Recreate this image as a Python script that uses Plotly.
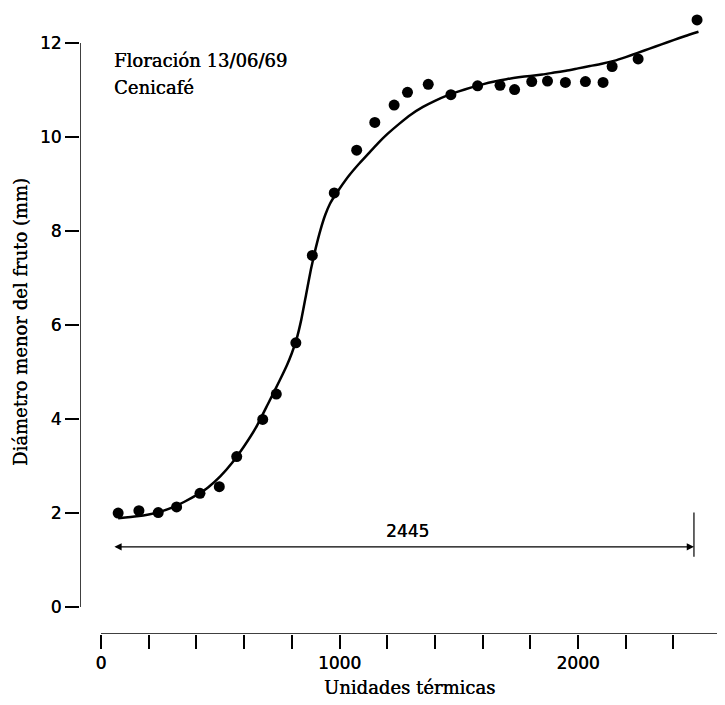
import plotly.graph_objects as go

# Observed data (thermal units vs fruit minor diameter, mm)
obs_x = [72, 159, 240, 317, 415, 496, 569, 678, 735, 817, 886, 978, 1072, 1148,
         1229, 1285, 1372, 1467, 1579, 1673, 1734, 1806, 1872, 1947, 2031, 2105,
         2143, 2252, 2499]
obs_y = [2.00, 2.05, 2.01, 2.13, 2.42, 2.56, 3.20, 3.99, 4.53, 5.62, 7.48, 8.81,
         9.72, 10.31, 10.68, 10.95, 11.12, 10.90, 11.09, 11.10, 11.01, 11.18,
         11.19, 11.16, 11.18, 11.16, 11.50, 11.66, 12.49]

# Fitted curve
fit_x = [72, 150, 200, 250, 300, 350, 400, 450, 500, 550, 600, 650, 700, 750,
         780, 800, 820, 840, 860, 880, 900, 920, 940, 960, 980, 1000, 1040, 1080,
         1120, 1160, 1200, 1250, 1300, 1350, 1400, 1450, 1500, 1550, 1600, 1650,
         1700, 1750, 1800, 1850, 1900, 1950, 2000, 2050, 2100, 2150, 2200, 2250,
         2300, 2350, 2400, 2450, 2505]
fit_y = [1.89, 1.93, 1.97, 2.03, 2.12, 2.24, 2.38, 2.55, 2.78, 3.07, 3.42, 3.82,
         4.32, 4.83, 5.15, 5.40, 5.70, 6.12, 6.65, 7.18, 7.63, 8.02, 8.34, 8.58,
         8.75, 8.90, 9.18, 9.42, 9.64, 9.86, 10.06, 10.28, 10.48, 10.64, 10.77,
         10.88, 10.97, 11.05, 11.12, 11.18, 11.23, 11.27, 11.30, 11.33, 11.37,
         11.41, 11.46, 11.51, 11.56, 11.62, 11.70, 11.79, 11.88, 11.97, 12.06,
         12.15, 12.24]

# Span marker
span_start = 50
span_end = 2486
span_y = 1.28
span_bar = [1.07, 2.01]
span_label = "2445"
span_label_pos = [1283, 1.62]

x_tickvals = list(range(0, 2601, 200))
x_ticktext = [str(v) if v % 1000 == 0 else "" for v in x_tickvals]
y_tickvals = [0, 2, 4, 6, 8, 10, 12]

x_range = [-88, 2612]
y_range = [-0.574, 12.702]

sans = "DejaVu Sans"
serif = "DejaVu Serif"
shadow = "0.35px 0 0 black"

fig = go.Figure()
fig.add_trace(go.Scatter(x=fit_x, y=fit_y, mode="lines",
                         line=dict(color="black", width=2.5, shape="spline", smoothing=0.5),
                         hoverinfo="skip", showlegend=False))
fig.add_trace(go.Scatter(x=obs_x, y=obs_y, mode="markers",
                         marker=dict(color="black", size=11),
                         cliponaxis=False, showlegend=False))

# axis lines (detached style)
fig.add_shape(type="line", x0=x_range[0], x1=x_range[0], y0=0, y1=12,
              xref="x", yref="y", line=dict(color="black", width=1.5))
fig.add_shape(type="line", x0=0, x1=2600, y0=y_range[0], y1=y_range[0],
              xref="x", yref="y", line=dict(color="black", width=1.5))

# span bar at the end
fig.add_shape(type="line", x0=span_end, x1=span_end, y0=span_bar[0], y1=span_bar[1],
              xref="x", yref="y", line=dict(color="black", width=1.2))

fig.add_annotation(x=span_end, y=span_y, ax=span_start, ay=span_y,
                   xref="x", yref="y", axref="x", ayref="y", text="",
                   showarrow=True, arrowhead=2, startarrowhead=2,
                   arrowside="end+start", arrowsize=1.2, startarrowsize=1.2,
                   arrowwidth=1.2, arrowcolor="black", standoff=0, startstandoff=0)
fig.add_annotation(x=span_label_pos[0], y=span_label_pos[1], text=span_label, showarrow=False,
                   font=dict(family=sans, size=17, color="black", shadow=shadow))

fig.add_annotation(x=46, y=11.62, text="Floración 13/06/69", showarrow=False,
                   xanchor="left", yanchor="middle",
                   font=dict(family=serif, size=18, color="black", shadow=shadow))
fig.add_annotation(x=46, y=11.06, text="Cenicafé", showarrow=False,
                   xanchor="left", yanchor="middle",
                   font=dict(family=serif, size=18, color="black", shadow=shadow))

# axis titles
fig.add_annotation(xref="paper", yref="paper", x=0.5124, y=-0.0865,
                   xanchor="center", yanchor="middle",
                   text="Unidades térmicas", showarrow=False,
                   font=dict(family=serif, size=18, color="black", shadow=shadow))
fig.add_annotation(xref="paper", yref="paper", x=-0.0932, y=0.5,
                   xanchor="center", yanchor="middle",
                   text="Diámetro menor del fruto (mm)", showarrow=False,
                   textangle=-90, font=dict(family=serif, size=18, color="black", shadow=shadow))

fig.update_xaxes(range=x_range, tickvals=x_tickvals, ticktext=x_ticktext,
                 ticks="outside", ticklen=14, tickwidth=1.5, tickcolor="black",
                 showline=False, showgrid=False, zeroline=False,
                 tickfont=dict(family=sans, size=17, color="black", shadow=shadow))
fig.update_yaxes(range=y_range, tickvals=y_tickvals,
                 ticks="outside", ticklen=14, tickwidth=1.5, tickcolor="black",
                 showline=False, showgrid=False, zeroline=False,
                 tickfont=dict(family=sans, size=17, color="black", shadow=shadow))

# page body has an 8px margin: shift the figure so the plot lands where the reference has it
fig.update_layout(width=717, height=697,
                  margin=dict(l=72, r=1, t=2, b=71, autoexpand=False),
                  plot_bgcolor="white", paper_bgcolor="white")

fig.write_html("out.html")
